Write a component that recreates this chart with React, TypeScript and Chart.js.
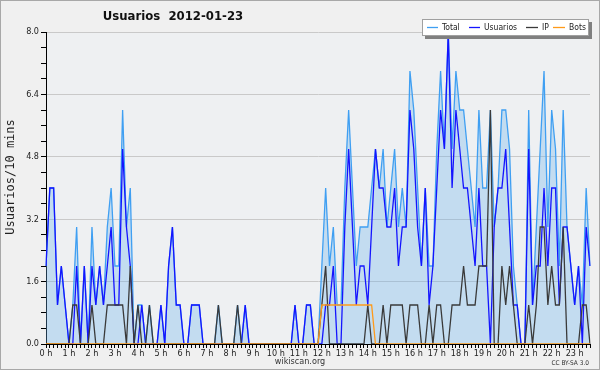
import React, { useEffect, useRef } from "react";
import { Chart, registerables } from "chart.js";

Chart.register(...registerables);

const hourLabels = [
  "0 h", "1 h", "2 h", "3 h", "4 h", "5 h", "6 h", "7 h", "8 h", "9 h", "10 h", "11 h",
  "12 h", "13 h", "14 h", "15 h", "16 h", "17 h", "18 h", "19 h", "20 h", "21 h", "22 h", "23 h",
];
const slotsPerHour = 6;

const totalValues = [
  2, 4, 4, 1, 2, 1, 0, 1, 3, 0, 2, 0, 3, 1, 2, 1, 3, 4, 2, 2, 6, 3, 4, 0,
  1, 1, 0, 1, 0, 0, 1, 0, 2, 3, 1, 1, 0, 0, 1, 1, 1, 0, 0, 0, 0, 1, 0, 0,
  0, 0, 1, 0, 1, 0, 0, 0, 0, 0, 0, 0, 0, 0, 0, 0, 0, 1, 0, 0, 1, 1, 0, 0,
  2, 4, 2, 3, 1, 1, 4, 6, 4, 2, 3, 3, 3, 4, 5, 4, 5, 3, 4, 5, 3, 4, 3, 7,
  6, 4, 2, 4, 2, 2, 5, 7, 5, 8, 5, 7, 6, 6, 5, 4, 3, 6, 4, 4, 6, 3, 4, 6,
  6, 5, 2, 1, 0, 0, 6, 1, 3, 5, 7, 3, 6, 5, 2, 6, 3, 2, 1, 2, 1, 4, 2,
];
const usuariosValues = [
  2, 4, 4, 1, 2, 1, 0, 0, 2, 0, 2, 0, 2, 1, 2, 1, 2, 3, 1, 1, 5, 3, 2, 0,
  0, 1, 0, 0, 0, 0, 1, 0, 2, 3, 1, 1, 0, 0, 1, 1, 1, 0, 0, 0, 0, 0, 0, 0,
  0, 0, 0, 0, 1, 0, 0, 0, 0, 0, 0, 0, 0, 0, 0, 0, 0, 1, 0, 0, 1, 1, 0, 0,
  0, 1, 1, 2, 0, 0, 3, 5, 3, 1, 2, 2, 1, 3, 5, 4, 4, 3, 3, 4, 2, 3, 3, 6,
  5, 3, 2, 4, 1, 2, 4, 6, 5, 8, 4, 6, 5, 4, 4, 3, 2, 4, 2, 2, 0, 3, 4, 4,
  5, 3, 1, 1, 0, 0, 5, 1, 2, 2, 4, 2, 4, 4, 1, 3, 3, 2, 1, 2, 0, 3, 2,
];
const ipValues = [
  0, 0, 0, 0, 0, 0, 0, 1, 1, 0, 0, 0, 1, 0, 0, 0, 1, 1, 1, 1, 1, 0, 2, 0,
  1, 0, 0, 1, 0, 0, 0, 0, 0, 0, 0, 0, 0, 0, 0, 0, 0, 0, 0, 0, 0, 1, 0, 0,
  0, 0, 1, 0, 0, 0, 0, 0, 0, 0, 0, 0, 0, 0, 0, 0, 0, 0, 0, 0, 0, 0, 0, 0,
  1, 2, 0, 0, 0, 0, 0, 0, 0, 0, 0, 0, 1, 0, 0, 0, 1, 0, 1, 1, 1, 1, 0, 1,
  1, 1, 0, 0, 1, 0, 1, 1, 0, 0, 1, 1, 1, 2, 1, 1, 1, 2, 2, 2, 6, 0, 0, 2,
  1, 2, 1, 0, 0, 0, 1, 0, 1, 3, 3, 1, 2, 1, 1, 3, 0, 0, 0, 0, 1, 1, 0,
];
const botsValues = [
  0, 0, 0, 0, 0, 0, 0, 0, 0, 0, 0, 0, 0, 0, 0, 0, 0, 0, 0, 0, 0, 0, 0, 0,
  0, 0, 0, 0, 0, 0, 0, 0, 0, 0, 0, 0, 0, 0, 0, 0, 0, 0, 0, 0, 0, 0, 0, 0,
  0, 0, 0, 0, 0, 0, 0, 0, 0, 0, 0, 0, 0, 0, 0, 0, 0, 0, 0, 0, 0, 0, 0, 0,
  1, 1, 1, 1, 1, 1, 1, 1, 1, 1, 1, 1, 1, 1, 0, 0, 0, 0, 0, 0, 0, 0, 0, 0,
  0, 0, 0, 0, 0, 0, 0, 0, 0, 0, 0, 0, 0, 0, 0, 0, 0, 0, 0, 0, 0, 0, 0, 0,
  0, 0, 0, 0, 0, 0, 0, 0, 0, 0, 0, 0, 0, 0, 0, 0, 0, 0, 0, 0, 0, 0, 0,
];

const yMajorTicks = [0, 1.6, 3.2, 4.8, 6.4, 8.0];
const yMinorStep = 0.4;
const yMax = 8;

const chartTitle = "Usuarios  2012-01-23";
const yAxisTitle = "Usuarios/10 mins";
const footerText = "wikiscan.org";
const licenseText = "CC BY-SA 3.0";

const seriesNames = ["Total", "Usuarios", "IP", "Bots"];
const seriesColors = ["#3f9ff2", "#1414ff", "#3a3a3a", "#ff9a1a"];

const slotLabels = totalValues.map((_, i) =>
  i % slotsPerHour === 0 ? hourLabels[i / slotsPerHour] : ""
);

const isMajor = (v: number) => yMajorTicks.some((m) => Math.abs(m - v) < 1e-6);

export default function App() {
  const ref = useRef<HTMLCanvasElement>(null);

  useEffect(() => {
    document.body.style.margin = "0";
    const canvas = ref.current as HTMLCanvasElement;

    const decor = {
      id: "decor",
      beforeDraw(chart: any) {
        const { ctx, chartArea: a, width, height } = chart;
        ctx.save();
        ctx.fillStyle = "#f0f0f0";
        ctx.fillRect(0, 0, width, height);
        ctx.fillStyle = "#eef0f2";
        ctx.fillRect(a.left, a.top, a.right - a.left, a.bottom - a.top);
        ctx.restore();
      },
      afterDraw(chart: any) {
        const { ctx, width, height } = chart;
        ctx.save();
        ctx.strokeStyle = "#a8a8a8";
        ctx.lineWidth = 1;
        ctx.strokeRect(0.5, 0.5, width - 1, height - 1);

        ctx.fillStyle = "#111";
        ctx.font = "bold 13px 'DejaVu Sans Condensed', 'DejaVu Sans'";
        ctx.textAlign = "center";
        ctx.textBaseline = "middle";
        ctx.fillText(chartTitle, 173, 17);

        ctx.save();
        ctx.translate(11, 177);
        ctx.rotate(-Math.PI / 2);
        ctx.font = "12px 'DejaVu Sans Mono'";
        ctx.fillStyle = "#222";
        ctx.fillText(yAxisTitle, 0, 0);
        ctx.restore();

        ctx.fillStyle = "#808080";
        ctx.fillRect(425, 22, 167, 17);
        ctx.fillStyle = "#ffffff";
        ctx.fillRect(422, 19, 167, 17);
        ctx.strokeStyle = "#a0a0a0";
        ctx.strokeRect(422.5, 19.5, 166, 16);
        const items = [
          { x1: 427, x2: 438, tx: 442 },
          { x1: 469, x2: 480, tx: 484 },
          { x1: 526, x2: 538, tx: 542 },
          { x1: 553, x2: 565, tx: 569 },
        ];
        ctx.font = "8.5px 'DejaVu Sans Condensed', 'DejaVu Sans'";
        ctx.textAlign = "left";
        items.forEach((it, k) => {
          ctx.strokeStyle = seriesColors[k];
          ctx.lineWidth = 1.3;
          ctx.beginPath();
          ctx.moveTo(it.x1, 27.5);
          ctx.lineTo(it.x2, 27.5);
          ctx.stroke();
          ctx.fillStyle = "#222";
          ctx.fillText(seriesNames[k], it.tx, 28);
        });

        ctx.textAlign = "center";
        ctx.font = "9px 'DejaVu Sans Condensed', 'DejaVu Sans'";
        ctx.fillStyle = "#333";
        ctx.fillText(footerText, 300, 362);
        ctx.textAlign = "right";
        ctx.font = "6.5px 'DejaVu Sans Condensed', 'DejaVu Sans'";
        ctx.fillText(licenseText, 589, 363);
        ctx.restore();
      },
    };

    const lineCommon = {
      pointRadius: 0,
      pointHoverRadius: 0,
      borderWidth: 1.3,
      tension: 0,
    };

    const chart = new Chart(canvas, {
      type: "line",
      data: {
        labels: slotLabels,
        datasets: [
          {
            ...lineCommon,
            label: seriesNames[0],
            data: totalValues,
            borderColor: seriesColors[0],
            backgroundColor: "rgba(105,177,235,0.32)",
            fill: "origin",
            order: 4,
          },
          {
            ...lineCommon,
            label: seriesNames[1],
            data: usuariosValues,
            borderColor: seriesColors[1],
            fill: false,
            order: 3,
          },
          {
            ...lineCommon,
            label: seriesNames[2],
            data: ipValues,
            borderColor: seriesColors[2],
            fill: false,
            order: 2,
          },
          {
            ...lineCommon,
            label: seriesNames[3],
            data: botsValues,
            borderColor: seriesColors[3],
            fill: false,
            order: 1,
          },
        ],
      },
      options: {
        responsive: false,
        animation: false,
        events: [],
        layout: { padding: { top: 32, right: 10, left: 0, bottom: 0 } },
        plugins: {
          legend: { display: false },
          title: { display: false },
          tooltip: { enabled: false },
        },
        scales: {
          x: {
            type: "category",
            offset: false,
            afterFit: (s: any) => {
              s.height = 26;
            },
            grid: {
              drawOnChartArea: false,
              drawTicks: true,
              tickLength: 4,
              color: "#000",
              tickColor: "#000",
            },
            border: { display: true, color: "#000", width: 1 },
            ticks: {
              autoSkip: false,
              maxRotation: 0,
              minRotation: 0,
              padding: 0,
              color: "#222",
              font: { family: "'DejaVu Sans Condensed', 'DejaVu Sans'", size: 9 },
              callback: (_v: any, i: number) => slotLabels[i],
            },
          },
          y: {
            type: "linear",
            min: 0,
            max: yMax,
            afterFit: (s: any) => {
              s.width = 46;
            },
            grid: {
              drawOnChartArea: true,
              drawTicks: true,
              tickLength: 5,
              color: (c: any) => (c.tick && isMajor(c.tick.value) ? "#c9c9c9" : "rgba(0,0,0,0)"),
              tickColor: "#000",
            },
            border: { display: true, color: "#000", width: 1 },
            ticks: {
              stepSize: yMinorStep,
              maxTicksLimit: 40,
              autoSkip: false,
              padding: 2,
              color: "#222",
              font: { family: "'DejaVu Sans Condensed', 'DejaVu Sans'", size: 9 },
              callback: (v: any) => (isMajor(Number(v)) ? Number(v).toFixed(1) : ""),
            },
          },
        },
      },
      plugins: [decor],
    });

    return () => chart.destroy();
  }, []);

  return (
    <div style={{ width: 600, height: 370 }}>
      <canvas ref={ref} width={600} height={370} style={{ display: "block" }} />
    </div>
  );
}
